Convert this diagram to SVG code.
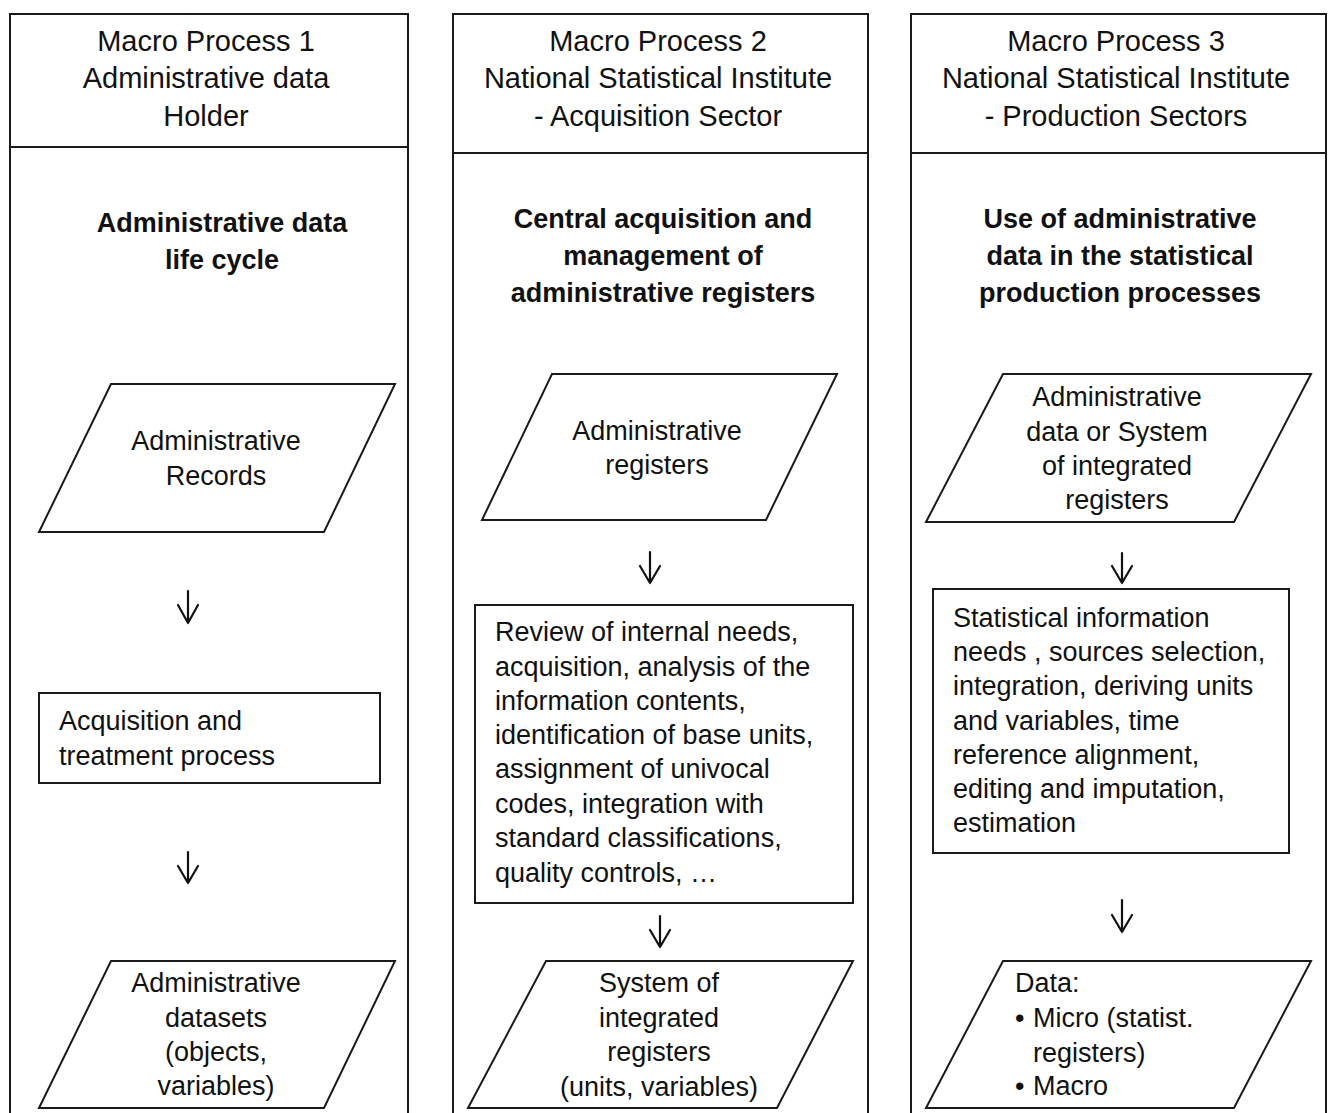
<svg xmlns="http://www.w3.org/2000/svg" width="1330" height="1113" viewBox="0 0 1330 1113">
<style>
.lane{fill:none;stroke:#1a1a1a;stroke-width:2}
.shape{fill:#fff;stroke:#1a1a1a;stroke-width:2}
.t{font-family:"Liberation Sans",Arial,sans-serif;font-size:27px;fill:#111}
.h{font-size:29px}
.b{font-weight:bold}
.m{text-anchor:middle}
.arrow{fill:none;stroke:#111;stroke-width:2.2;stroke-linecap:round;stroke-linejoin:round}
</style>
<rect width="1330" height="1113" fill="#fff"/>

<g id="lane1">
  <rect class="lane" x="10" y="14" width="398" height="1120"/>
  <line class="lane" x1="10" y1="147" x2="408" y2="147"/>
  <text class="t h m" x="206" y="51">Macro Process 1</text>
  <text class="t h m" x="206" y="88">Administrative data</text>
  <text class="t h m" x="206" y="126">Holder</text>
  <text class="t b m" x="222" y="232">Administrative data</text>
  <text class="t b m" x="222" y="269">life cycle</text>
</g>
<g id="lane2">
  <rect class="lane" x="453" y="14" width="415" height="1120"/>
  <line class="lane" x1="453" y1="153" x2="868" y2="153"/>
  <text class="t h m" x="658" y="51">Macro Process 2</text>
  <text class="t h m" x="658" y="88">National Statistical Institute</text>
  <text class="t h m" x="658" y="126">- Acquisition Sector</text>
  <text class="t b m" x="663" y="228">Central acquisition and</text>
  <text class="t b m" x="663" y="265">management of</text>
  <text class="t b m" x="663" y="302">administrative registers</text>
</g>
<g id="lane3">
  <rect class="lane" x="911" y="14" width="415" height="1120"/>
  <line class="lane" x1="911" y1="153" x2="1326" y2="153"/>
  <text class="t h m" x="1116" y="51">Macro Process 3</text>
  <text class="t h m" x="1116" y="88">National Statistical Institute</text>
  <text class="t h m" x="1116" y="126">- Production Sectors</text>
  <text class="t b m" x="1120" y="228">Use of administrative</text>
  <text class="t b m" x="1120" y="265">data in the statistical</text>
  <text class="t b m" x="1120" y="302">production processes</text>
</g>

<g id="admin-records">
  <polygon class="shape" points="111,384 395,384 324,532 39,532"/>
  <text class="t m" x="216" y="450">Administrative</text>
  <text class="t m" x="216" y="485">Records</text>
</g>
<g id="acquisition-treatment">
  <rect class="shape" x="39" y="693" width="341" height="90"/>
  <text class="t" x="59" y="730">Acquisition and</text>
  <text class="t" x="59" y="765">treatment process</text>
</g>
<g id="admin-datasets">
  <polygon class="shape" points="111,961 395,961 324,1108 39,1108"/>
  <text class="t m" x="216" y="992">Administrative</text>
  <text class="t m" x="216" y="1027">datasets</text>
  <text class="t m" x="216" y="1061">(objects,</text>
  <text class="t m" x="216" y="1095">variables)</text>
</g>

<g id="admin-registers">
  <polygon class="shape" points="552,374 837,374 766,520 482,520"/>
  <text class="t m" x="657" y="440">Administrative</text>
  <text class="t m" x="657" y="474">registers</text>
</g>
<g id="review-box">
  <rect class="shape" x="475" y="605" width="378" height="298"/>
  <text class="t" x="495" y="641">Review of internal needs,</text>
  <text class="t" x="495" y="676">acquisition, analysis of the</text>
  <text class="t" x="495" y="710">information contents,</text>
  <text class="t" x="495" y="744">identification of base units,</text>
  <text class="t" x="495" y="778">assignment of univocal</text>
  <text class="t" x="495" y="813">codes, integration with</text>
  <text class="t" x="495" y="847">standard classifications,</text>
  <text class="t" x="495" y="882">quality controls, …</text>
</g>
<g id="integrated-registers">
  <polygon class="shape" points="546,961 853,961 777,1108 468,1108"/>
  <text class="t m" x="659" y="992">System of</text>
  <text class="t m" x="659" y="1027">integrated</text>
  <text class="t m" x="659" y="1061">registers</text>
  <text class="t m" x="659" y="1096">(units, variables)</text>
</g>

<g id="admin-data-system">
  <polygon class="shape" points="1003,374 1311,374 1234,522 926,522"/>
  <text class="t m" x="1117" y="406">Administrative</text>
  <text class="t m" x="1117" y="441">data or System</text>
  <text class="t m" x="1117" y="475">of integrated</text>
  <text class="t m" x="1117" y="509">registers</text>
</g>
<g id="statistical-box">
  <rect class="shape" x="933" y="589" width="356" height="264"/>
  <text class="t" x="953" y="627">Statistical information</text>
  <text class="t" x="953" y="661">needs , sources selection,</text>
  <text class="t" x="953" y="695">integration, deriving units</text>
  <text class="t" x="953" y="730">and variables, time</text>
  <text class="t" x="953" y="764">reference alignment,</text>
  <text class="t" x="953" y="798">editing and imputation,</text>
  <text class="t" x="953" y="832">estimation</text>
</g>
<g id="output-data">
  <polygon class="shape" points="1003,961 1311,961 1234,1108 926,1108"/>
  <text class="t" x="1015" y="992">Data:</text>
  <text class="t" x="1015" y="1027">•</text>
  <text class="t" x="1033" y="1027">Micro (statist.</text>
  <text class="t" x="1033" y="1062">registers)</text>
  <text class="t" x="1015" y="1095">•</text>
  <text class="t" x="1033" y="1095">Macro</text>
</g>

<g id="connectors">
  <path class="arrow" d="M188,591 V623 M178,605 L188,623 L198,605"/>
  <path class="arrow" d="M188,852 V883 M178,866 L188,883 L198,866"/>
  <path class="arrow" d="M650,552 V583 M640,566 L650,583 L660,566"/>
  <path class="arrow" d="M660,916 V947 M650,930 L660,947 L670,930"/>
  <path class="arrow" d="M1122,553 V583 M1112,566 L1122,583 L1132,566"/>
  <path class="arrow" d="M1122,900 V932 M1112,915 L1122,932 L1132,915"/>
</g>
</svg>
